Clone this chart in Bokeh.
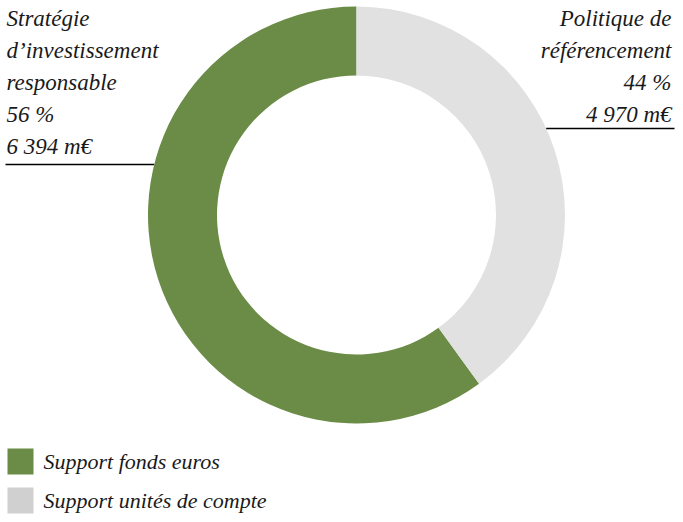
import numpy as np
from bokeh.plotting import figure
from bokeh.models import Range1d
from bokeh.core.properties import value
from bokeh.embed import file_html
from bokeh.resources import INLINE

# ---- data ----
categories = ["Support fonds euros", "Support unités de compte"]
slice_share = [60, 40]          # shares as drawn in the picture (%)
label_share = ["56 %", "44 %"]
label_amount = ["6 394 m€", "4 970 m€"]
label_title = [["Stratégie", "d’investissement", "responsable"],
               ["Politique de", "référencement"]]
colors = ["#6b8c46", "#e1e1e1"]
legend_colors = ["#6b8c46", "#d0d0d0"]

W, H = 675, 514
FONT = value("Liberation Serif")
FS = "23px"
FS_LEG = "22px"


def Y(v):
    # screen-like (top-down) position -> data y
    return H - v


p = figure(width=W, height=H, output_backend="svg", toolbar_location=None,
           x_range=Range1d(0, W), y_range=Range1d(0, H),
           min_border=0, outline_line_color=None)
p.axis.visible = False
p.grid.visible = False
p.background_fill_color = "white"

# ---- donut ----
cx, cy = 356, Y(214.5)
r_out, r_in = 208.5, 139.5
shares = np.array(slice_share, dtype=float)
fr = shares / shares.sum()
ends = np.pi / 2 + 2 * np.pi * np.cumsum(fr)
starts = np.concatenate([[np.pi / 2], ends[:-1]])
p.annular_wedge(x=cx, y=cy, inner_radius=r_in, outer_radius=r_out,
                start_angle=starts, end_angle=ends, direction="anticlock",
                fill_color=colors, line_color=None)

# ---- labels ----
lh = 32
left_lines = label_title[0] + [label_share[0], label_amount[0]]
right_lines = label_title[1] + [label_share[1], label_amount[1]]
top = 18
p.text(x=[6] * len(left_lines), y=[Y(top + i * lh) for i in range(len(left_lines))],
       text=left_lines, text_font=FONT, text_font_style="italic",
       text_font_size=FS, text_baseline="middle", text_align="left",
       text_color="#1a1a1a")
p.text(x=[671] * len(right_lines), y=[Y(top + i * lh) for i in range(len(right_lines))],
       text=right_lines, text_font=FONT, text_font_style="italic",
       text_font_size=FS, text_baseline="middle", text_align="right",
       text_color="#1a1a1a")

# leader lines
yl = Y(164)
yr = Y(128)
xl_end = cx - np.sqrt(r_out**2 - (yl - cy)**2)
xr_start = cx + np.sqrt(r_out**2 - (yr - cy)**2)
p.segment(x0=[5, xr_start], y0=[yl, yr], x1=[xl_end, 674], y1=[yl, yr],
          line_color="black", line_width=1.5)

# ---- legend ----
sq = 26
leg_y = [Y(461), Y(500)]
p.rect(x=[7 + sq / 2] * 2, y=leg_y, width=sq, height=sq,
       fill_color=legend_colors, line_color=None)
p.text(x=[43] * 2, y=leg_y, text=categories, text_font=FONT,
       text_font_style="italic", text_font_size=FS_LEG, text_baseline="middle",
       text_align="left", text_color="#1a1a1a")

open("out.html", "w").write(file_html(p, INLINE))
